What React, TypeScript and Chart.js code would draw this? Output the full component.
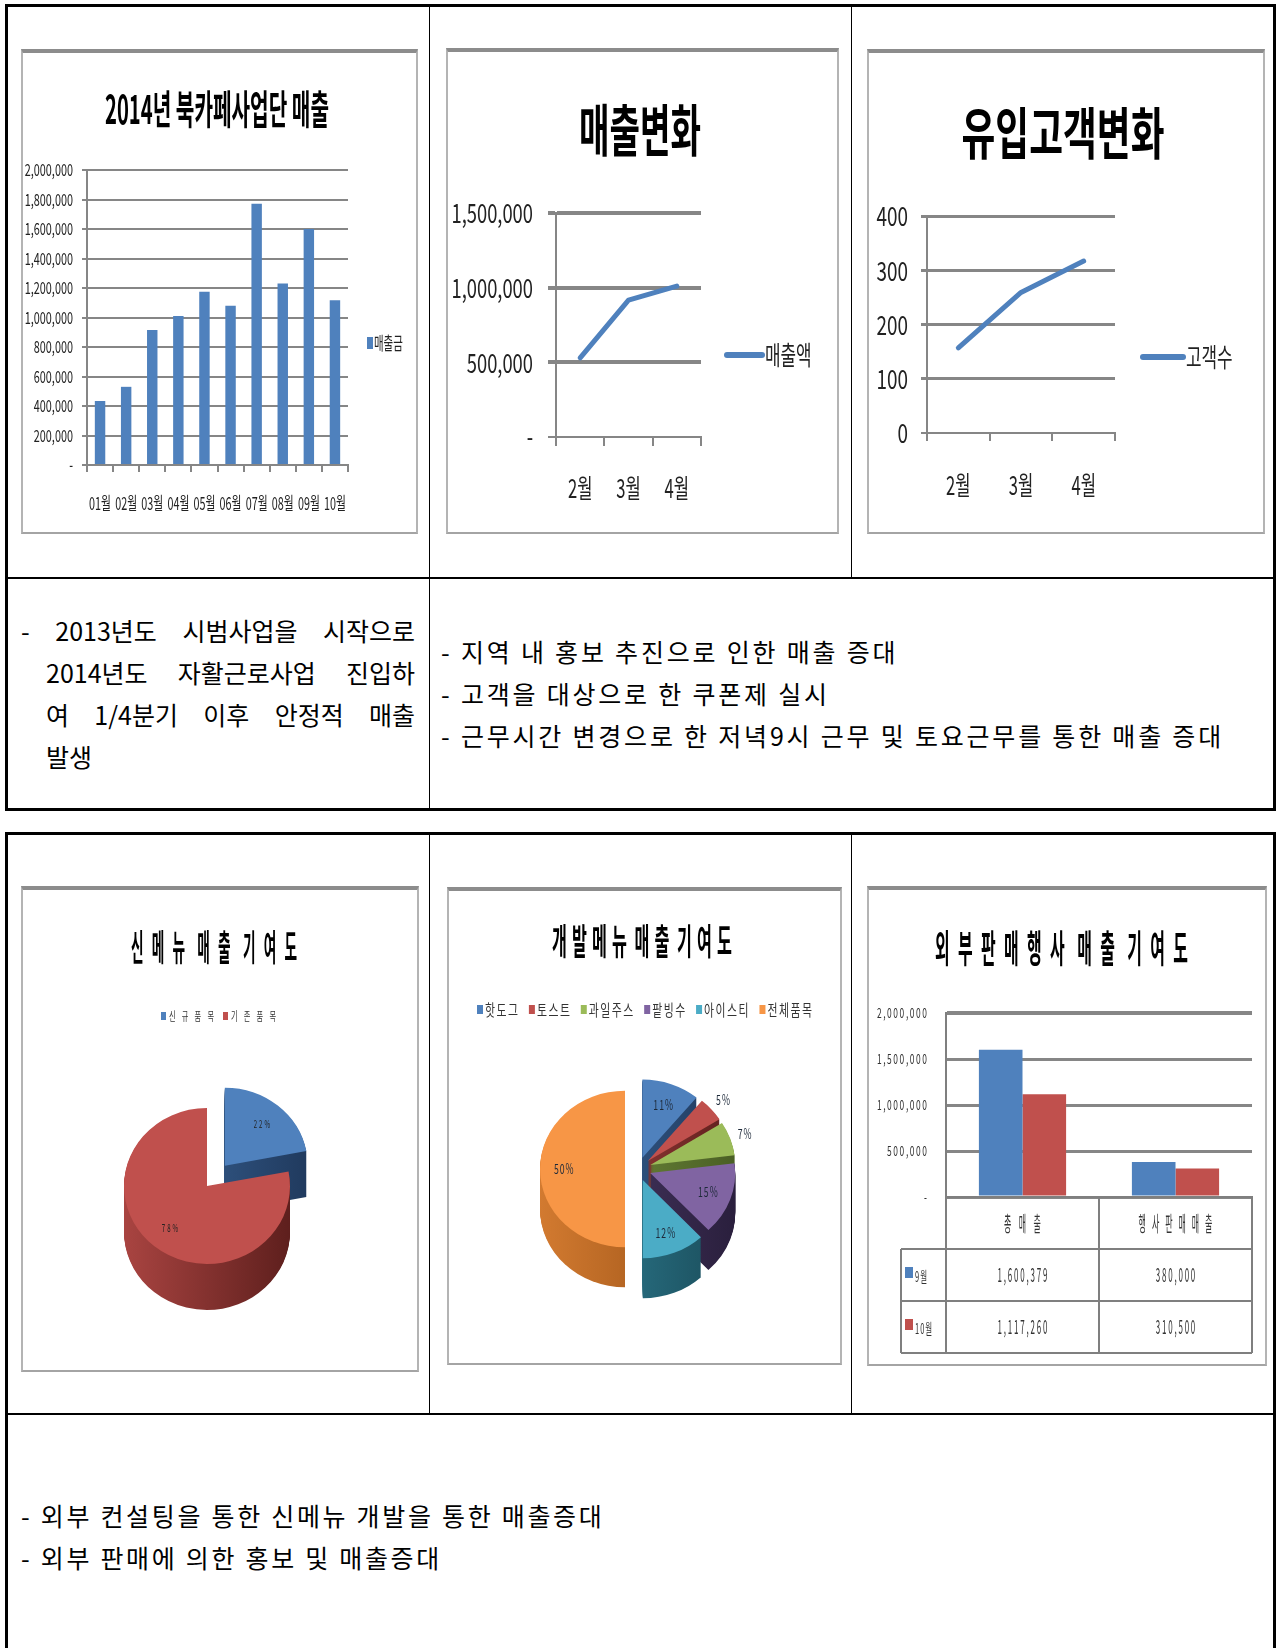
import React, { useEffect, useRef } from 'react';
import { Chart, registerables } from 'chart.js';

Chart.register(...registerables);

const FONT = "'Noto Sans CJK KR', 'Noto Sans', sans-serif";

// ================= data =================
const salesTitle = '2014년 북카페사업단 매출';
const salesMonths = ['01월', '02월', '03월', '04월', '05월', '06월', '07월', '08월', '09월', '10월'];
const salesValues = [434000, 530000, 916000, 1010000, 1175000, 1080000, 1772000, 1230000, 1600379, 1117260];
const salesTicks = ['-', '200,000', '400,000', '600,000', '800,000', '1,000,000', '1,200,000', '1,400,000', '1,600,000', '1,800,000', '2,000,000'];
const salesSeries = '매출금';

const trendTitle = '매출변화';
const trendMonths = ['2월', '3월', '4월'];
const trendValues = [530000, 916000, 1010000];
const trendTicks = ['-', '500,000', '1,000,000', '1,500,000'];
const trendSeries = '매출액';

const visitTitle = '유입고객변화';
const visitMonths = ['2월', '3월', '4월'];
const visitValues = [157, 259, 317];
const visitTicks = ['0', '100', '200', '300', '400'];
const visitSeries = '고객수';

const newMenuTitle = '신메뉴 매출 기여도';
const newMenuLabels = ['신규품목', '기존품목'];
const newMenuValues = [22, 78];

const devMenuTitle = '개발메뉴 매출 기여도';
const devMenuLabels = ['핫도그', '토스트', '과일주스', '팥빙수', '아이스티', '전체품목'];
const devMenuValues = [11, 5, 7, 15, 12, 50];

const eventTitle = '외부판매행사 매출 기여도';
const eventCategories = ['총매출', '행사판매매출'];
const eventSeriesNames = ['9월', '10월'];
const eventSep = [1600379, 380000];
const eventOct = [1117260, 310500];
const eventTicks = ['-', '500,000', '1,000,000', '1,500,000', '2,000,000'];

const noteLeft = ['- 2013년도 시범사업을 시작으로', '2014년도 자활근로사업 진입하', '여 1/4분기 이후 안정적 매출', '발생'];
const noteRight = ['- 지역 내 홍보 추진으로 인한 매출 증대', '- 고객을 대상으로 한 쿠폰제 실시', '- 근무시간 변경으로 한 저녁9시 근무 및 토요근무를 통한 매출 증대'];
const noteBottom = ['- 외부 컨설팅을 통한 신메뉴 개발을 통한 매출증대', '- 외부 판매에 의한 홍보 및 매출증대'];

// ================= styles =================
const BLUE = '#4f81bd';
const RED = '#c0504d';
const GREEN = '#9bbb59';
const PURPLE = '#8064a2';
const CYAN = '#4bacc6';
const ORANGE = '#f79646';
const GRID = '#868686';
const PIE_COLORS = [BLUE, RED, GREEN, PURPLE, CYAN, ORANGE];
const PIE_SIDES: [string, string][] = [
  ['#3a6496', '#203a5e'],
  ['#a94441', '#5e1f1d'],
  ['#748f3e', '#4a5f25'],
  ['#4a3a66', '#2a1f3d'],
  ['#2f8095', '#1b4e5c'],
  ['#d27a30', '#9a5216'],
];

type TOpt = {
  size: number;
  weight?: number;
  sx?: number;
  fitW?: number;
  spacing?: number;
  spread?: number;
  align?: 'left' | 'center' | 'right';
  color?: string;
  dry?: boolean;
};

function drawStr(ctx: any, str: string, x: number, y: number, o: TOpt): number {
  ctx.save();
  ctx.font = `${o.weight ?? 400} ${o.size}px ${FONT}`;
  ctx.fillStyle = o.color ?? '#000';
  ctx.textBaseline = 'middle';
  ctx.textAlign = 'left';
  const chars = Array.from(str);
  const nat = chars.map((c) => ctx.measureText(c).width);
  let sx = o.sx ?? 1;
  if (o.fitW) sx = o.fitW / nat.reduce((a, b) => a + b, 0);
  const items: { c: string; w: number; gap: number }[] = [];
  if (o.spread != null) {
    let pending = 1;
    chars.forEach((c, i) => {
      if (c === ' ') {
        pending = 1.5;
        return;
      }
      items.push({ c, w: nat[i] * sx, gap: items.length ? pending : 0 });
      pending = 1;
    });
  } else {
    chars.forEach((c, i) => items.push({ c, w: nat[i] * sx, gap: i ? 1 : 0 }));
  }
  const wsum = items.reduce((a, it) => a + it.w, 0);
  const gsum = items.reduce((a, it) => a + it.gap, 0);
  const sp = o.spread != null ? (gsum ? (o.spread - wsum) / gsum : 0) : o.spacing ?? 0;
  const total = wsum + sp * gsum;
  if (!o.dry) {
    let cx = o.align === 'left' ? x : o.align === 'right' ? x - total : x - total / 2;
    items.forEach((it) => {
      cx += it.gap * sp;
      ctx.save();
      ctx.translate(cx, y);
      ctx.scale(sx, 1);
      ctx.fillText(it.c, 0, 0);
      ctx.restore();
      cx += it.w;
    });
  }
  ctx.restore();
  return total;
}

const baseOptions = {
  animation: false,
  responsive: false,
  maintainAspectRatio: false,
};

// ================= chart 1: monthly bars =================
function salesConfig(): any {
  return {
    type: 'bar',
    data: {
      labels: salesMonths,
      datasets: [{ label: salesSeries, data: salesValues, backgroundColor: BLUE, barPercentage: 0.4, categoryPercentage: 1 }],
    },
    options: {
      ...baseOptions,
      layout: { padding: { left: 10, right: 70, top: 121, bottom: 29 } },
      plugins: { legend: { display: false }, tooltip: { enabled: false } },
      scales: {
        x: {
          offset: true,
          grid: { offset: true, drawOnChartArea: false, tickLength: 7, color: GRID, lineWidth: 2 },
          border: { color: GRID, width: 2 },
          ticks: { display: false },
          afterFit: (s: any) => { s.height = 40; },
        },
        y: {
          min: 0,
          max: 2000000,
          ticks: { stepSize: 200000, display: false, callback: (_v: any, i: number) => salesTicks[i] },
          grid: { color: GRID, lineWidth: 2, tickLength: 5 },
          border: { color: GRID, width: 2 },
          afterFit: (s: any) => { s.width = 56; },
        },
      },
    },
    plugins: [
      {
        id: 'salesText',
        afterDraw(chart: any) {
          const ctx = chart.ctx;
          const ys = chart.scales.y;
          const xs = chart.scales.x;
          drawStr(ctx, salesTitle, 196, 60, { size: 40, weight: 700, fitW: 224 });
          ys.ticks.forEach((t: any) =>
            drawStr(ctx, String(t.label), 52, ys.getPixelForValue(t.value), { size: 17, sx: 0.64, align: 'right', color: '#222' })
          );
          salesMonths.forEach((m, i) => drawStr(ctx, m, xs.getPixelForValue(i), 454, { size: 18, sx: 0.6, color: '#222' }));
          ctx.fillStyle = BLUE;
          ctx.fillRect(346, 288, 6, 12);
          drawStr(ctx, salesSeries, 353, 294, { size: 18, sx: 0.58, align: 'left', color: '#222' });
        },
      },
    ],
  };
}

// ================= charts 2/3: line =================
function lineConfig(o: any): any {
  return {
    type: 'line',
    data: {
      labels: o.labels,
      datasets: [
        {
          label: o.series,
          data: o.values,
          borderColor: BLUE,
          borderWidth: 5,
          pointRadius: 0,
          borderCapStyle: 'round',
          borderJoinStyle: 'round',
          tension: 0,
          fill: false,
        },
      ],
    },
    options: {
      ...baseOptions,
      layout: { padding: o.pad },
      plugins: { legend: { display: false }, tooltip: { enabled: false } },
      scales: {
        x: {
          offset: true,
          grid: { offset: true, drawOnChartArea: false, tickLength: o.xTick, color: GRID, lineWidth: 2 },
          border: { color: GRID, width: 2 },
          ticks: { display: false },
          afterFit: (s: any) => { s.height = 40; },
        },
        y: {
          min: 0,
          max: o.max,
          ticks: { stepSize: o.step, display: false, callback: (_v: any, i: number) => o.ticks[i] },
          grid: {
            color: GRID,
            tickLength: o.yTick,
            lineWidth: (c: any) => (c.tick && c.tick.value === 0 ? 2 : o.gridW),
          },
          border: { color: GRID, width: 2 },
          afterFit: (s: any) => { s.width = o.yW; },
        },
      },
    },
    plugins: [
      {
        id: 'lineText',
        afterDraw(chart: any) {
          const ctx = chart.ctx;
          const ys = chart.scales.y;
          const xs = chart.scales.x;
          drawStr(ctx, o.title, o.titleX, o.titleY, { size: 56, weight: 700, fitW: o.titleW });
          ys.ticks.forEach((t: any) =>
            drawStr(ctx, String(t.label), o.yLabelX, ys.getPixelForValue(t.value), { size: 27, sx: o.ySx, align: 'right', color: '#222' })
          );
          o.labels.forEach((m: string, i: number) =>
            drawStr(ctx, m, xs.getPixelForValue(i), o.xLabelY, { size: 26, sx: 0.64, color: '#222' })
          );
          ctx.save();
          ctx.strokeStyle = BLUE;
          ctx.lineWidth = 6;
          ctx.lineCap = 'round';
          ctx.beginPath();
          ctx.moveTo(o.legX1, o.legY);
          ctx.lineTo(o.legX2, o.legY);
          ctx.stroke();
          ctx.restore();
          drawStr(ctx, o.series, o.legX2 + 3, o.legY, { size: 26, sx: 0.65, align: 'left', color: '#222' });
        },
      },
    ],
  };
}

// ================= charts 4/5: 3D-looking pies =================
function pie3dPlugin(k: number, depth: number, explode: (i: number) => number, sides: [string, string][]) {
  return {
    id: 'pie3d',
    beforeDatasetsDraw(chart: any) {
      const ctx = chart.ctx;
      const arcs: any[] = chart.getDatasetMeta(0).data;
      if (!arcs.length) return;
      const cx = arcs[0].x;
      const cy = arcs[0].y;
      const r = arcs[0].outerRadius;
      ctx.save();
      ctx.translate(cx, cy);
      ctx.scale(1, k);
      ctx.translate(-cx, -cy);
      const sideOpts = arcs.map((a, i) => {
        const g = ctx.createLinearGradient(cx - r, 0, cx + r, 0);
        g.addColorStop(0, sides[i][0]);
        g.addColorStop(1, sides[i][1]);
        return { ...a.options, backgroundColor: g, borderWidth: 0 };
      });
      const shift = (a: any, i: number) => {
        const m = (a.startAngle + a.endAngle) / 2;
        const e = explode(i);
        return [Math.cos(m) * e, Math.sin(m) * e];
      };
      for (let d = depth; d >= 1; d--) {
        arcs.forEach((a, i) => {
          const [dx, dy] = shift(a, i);
          const saved = a.options;
          ctx.save();
          ctx.translate(dx, dy + d / k);
          a.options = sideOpts[i];
          a.draw(ctx);
          a.options = saved;
          ctx.restore();
        });
      }
      arcs.forEach((a, i) => {
        const [dx, dy] = shift(a, i);
        ctx.save();
        ctx.translate(dx, dy);
        a.draw(ctx);
        ctx.restore();
      });
      ctx.restore();
      return false;
    },
  };
}

function pieLabels(chart: any, values: number[], k: number, explode: (i: number) => number, o: TOpt, inner: number) {
  const ctx = chart.ctx;
  const arcs: any[] = chart.getDatasetMeta(0).data;
  arcs.forEach((a, i) => {
    const m = (a.startAngle + a.endAngle) / 2;
    const v = values[i];
    const dist = (v < 10 ? 1.18 : inner) * a.outerRadius + explode(i);
    const px = a.x + Math.cos(m) * dist;
    const py = a.y + Math.sin(m) * dist * k;
    drawStr(ctx, `${v}%`, px, py, o);
  });
}

function newMenuConfig(): any {
  const k = 0.94;
  const explode = (i: number) => (i === 0 ? 28 : 0);
  return {
    type: 'pie',
    data: {
      labels: newMenuLabels,
      datasets: [{ data: newMenuValues, backgroundColor: [BLUE, RED], borderWidth: 0 }],
    },
    options: {
      ...baseOptions,
      radius: 83,
      layout: { padding: { left: 86, right: 112, top: 200, bottom: 86 } },
      plugins: { legend: { display: false }, tooltip: { enabled: false } },
    },
    plugins: [
      pie3dPlugin(k, 46, explode, [PIE_SIDES[0], PIE_SIDES[1]]),
      {
        id: 'newMenuText',
        afterDraw(chart: any) {
          const ctx = chart.ctx;
          drawStr(ctx, newMenuTitle, 193, 61, { size: 36, weight: 700, sx: 0.38, spread: 166 });
          const starts = [140, 202];
          newMenuLabels.forEach((l, i) => {
            ctx.fillStyle = [BLUE, RED][i];
            ctx.fillRect(starts[i], 126, 5, 8);
            drawStr(ctx, l, starts[i] + 8, 130, { size: 12, sx: 0.6, spread: 45, align: 'left', color: '#333' });
          });
          pieLabels(chart, newMenuValues, k, explode, { size: 11, sx: 0.55, spacing: 2, color: '#222' }, 0.7);
        },
      },
    ],
  };
}

function devMenuConfig(): any {
  const k = 0.92;
  const explode = () => 13;
  return {
    type: 'pie',
    data: {
      labels: devMenuLabels,
      datasets: [{ data: devMenuValues, backgroundColor: PIE_COLORS, borderWidth: 0 }],
    },
    options: {
      ...baseOptions,
      radius: 85,
      layout: { padding: { left: 91, right: 104, top: 182, bottom: 96 } },
      plugins: { legend: { display: false }, tooltip: { enabled: false } },
    },
    plugins: [
      pie3dPlugin(k, 40, explode, PIE_SIDES),
      {
        id: 'devMenuText',
        afterDraw(chart: any) {
          const ctx = chart.ctx;
          drawStr(ctx, devMenuTitle, 195, 54, { size: 36, weight: 700, sx: 0.45, spread: 180 });
          const lo: TOpt = { size: 16, sx: 0.68, spacing: 1.5, align: 'left', color: '#333' };
          const widths = devMenuLabels.map((l) => 8 + drawStr(ctx, l, 0, 0, { ...lo, dry: true }));
          const gap = (335 - widths.reduce((a, b) => a + b, 0)) / (devMenuLabels.length - 1);
          let x = 30;
          devMenuLabels.forEach((l, i) => {
            ctx.fillStyle = PIE_COLORS[i];
            ctx.fillRect(x, 118, 6, 9);
            drawStr(ctx, l, x + 8, 123, lo);
            x += widths[i] + gap;
          });
          pieLabels(chart, devMenuValues, k, explode, { size: 14, sx: 0.62, spacing: 1, color: '#1e2a3a' }, 0.72);
        },
      },
    ],
  };
}

// ================= chart 6: grouped bars with data table =================
function eventConfig(): any {
  return {
    type: 'bar',
    data: {
      labels: eventCategories,
      datasets: [
        { label: eventSeriesNames[0], data: eventSep, backgroundColor: BLUE, barPercentage: 1, categoryPercentage: 0.57 },
        { label: eventSeriesNames[1], data: eventOct, backgroundColor: RED, barPercentage: 1, categoryPercentage: 0.57 },
      ],
    },
    options: {
      ...baseOptions,
      layout: { padding: { left: 10, right: 15, top: 127, bottom: 9 } },
      plugins: { legend: { display: false }, tooltip: { enabled: false } },
      scales: {
        x: {
          offset: true,
          grid: { display: false },
          border: { color: '#7f7f7f', width: 2 },
          ticks: { display: false },
          afterFit: (s: any) => { s.height = 160; },
        },
        y: {
          min: 0,
          max: 2000000,
          ticks: { stepSize: 500000, display: false, callback: (_v: any, i: number) => eventTicks[i] },
          grid: { color: GRID, drawTicks: false, lineWidth: (c: any) => (c.tick && c.tick.value === 2000000 ? 4 : 3) },
          border: { color: '#7f7f7f', width: 2 },
          afterFit: (s: any) => { s.width = 69; },
        },
      },
    },
    plugins: [
      {
        id: 'eventText',
        afterDraw(chart: any) {
          const ctx = chart.ctx;
          const ys = chart.scales.y;
          const xs = chart.scales.x;
          const ca = chart.chartArea;
          drawStr(ctx, eventTitle, 194.5, 62, { size: 38, weight: 700, sx: 0.42, spread: 253 });
          ys.ticks.forEach((t: any) =>
            drawStr(ctx, String(t.label), 60, ys.getPixelForValue(t.value), { size: 14, sx: 0.6, spacing: 1.6, align: 'right', color: '#333' })
          );
          // data table
          const edges = [ca.left, (xs.getPixelForValue(0) + xs.getPixelForValue(1)) / 2, ca.right];
          const rowH = 52;
          const t0 = ca.bottom;
          const legL = 34;
          ctx.save();
          ctx.strokeStyle = '#7f7f7f';
          ctx.lineWidth = 2;
          ctx.beginPath();
          [1, 2, 3].forEach((r) => {
            ctx.moveTo(legL, t0 + r * rowH);
            ctx.lineTo(ca.right, t0 + r * rowH);
          });
          edges.forEach((ex) => {
            ctx.moveTo(ex, t0);
            ctx.lineTo(ex, t0 + 3 * rowH);
          });
          ctx.moveTo(legL, t0 + rowH);
          ctx.lineTo(legL, t0 + 3 * rowH);
          ctx.stroke();
          ctx.restore();
          const rows = [eventSep, eventOct];
          eventCategories.forEach((c, ci) => {
            const cx = (edges[ci] + edges[ci + 1]) / 2;
            drawStr(ctx, c, cx, t0 + rowH / 2, { size: 21, sx: 0.38, spread: c.length * 12.3, color: '#333' });
            rows.forEach((vals, ri) => {
              drawStr(ctx, vals[ci].toLocaleString('en-US'), cx, t0 + rowH * (ri + 1.5), { size: 19, sx: 0.42, spacing: 1.8, color: '#333' });
            });
          });
          eventSeriesNames.forEach((n, ri) => {
            const cy = t0 + rowH * (ri + 1.5);
            ctx.fillStyle = [BLUE, RED][ri];
            ctx.fillRect(38, cy - 8, 8, 11);
            drawStr(ctx, n, 48, cy + 1, { size: 15, sx: 0.5, spacing: 1, align: 'left', color: '#333' });
          });
        },
      },
    ],
  };
}

// ================= components =================
function ChartPanel({ x, y, w, h, make }: any) {
  const ref = useRef<HTMLCanvasElement | null>(null);
  useEffect(() => {
    const c = new Chart(ref.current as HTMLCanvasElement, make());
    return () => c.destroy();
  }, []);
  return (
    <>
      <canvas ref={ref} width={w} height={h} style={{ position: 'absolute', left: x, top: y, width: w, height: h }} />
      <div
        style={{
          position: 'absolute',
          left: x,
          top: y,
          width: w,
          height: h,
          boxSizing: 'border-box',
          borderTop: '4px solid #8c8c8c',
          borderLeft: '2px solid #b4b4b4',
          borderRight: '2px solid #b4b4b4',
          borderBottom: '2px solid #a4a4a4',
          pointerEvents: 'none',
        }}
      />
    </>
  );
}

const abs = (left: number, top: number, width: number, height: number, extra: any = {}) => ({
  position: 'absolute' as const,
  left,
  top,
  width,
  height,
  ...extra,
});

const bodyFont = { fontFamily: FONT, fontSize: 25, lineHeight: '42px', color: '#000', whiteSpace: 'nowrap' as const };

export default function App() {
  return (
    <div style={{ position: 'absolute', left: 0, top: 0, width: 1276, height: 1648, overflow: 'hidden', background: '#fff' }}>
      {/* table 1 */}
      <div style={abs(5, 4, 1271, 807, { border: '3px solid #000', boxSizing: 'border-box' })} />
      <div style={abs(429, 7, 1, 801, { background: '#000' })} />
      <div style={abs(851, 7, 1, 571, { background: '#000' })} />
      <div style={abs(8, 577, 1265, 2, { background: '#000' })} />
      {/* table 2 */}
      <div style={abs(5, 832, 1271, 900, { border: '3px solid #000', boxSizing: 'border-box' })} />
      <div style={abs(429, 835, 1, 579, { background: '#000' })} />
      <div style={abs(851, 835, 1, 579, { background: '#000' })} />
      <div style={abs(8, 1413, 1265, 2, { background: '#000' })} />

      <ChartPanel x={21} y={49} w={397} h={485} make={salesConfig} />
      <ChartPanel
        x={446}
        y={48}
        w={393}
        h={486}
        make={() =>
          lineConfig({
            labels: trendMonths, values: trendValues, series: trendSeries, title: trendTitle, ticks: trendTicks,
            max: 1500000, step: 500000, pad: { left: 10, right: 138, top: 165, bottom: 57 }, yW: 100,
            xTick: 9, yTick: 8, gridW: 4, titleX: 194, titleY: 82, titleW: 122, yLabelX: 87, ySx: 0.68,
            xLabelY: 440, legX1: 281, legX2: 316, legY: 307,
          })
        }
      />
      <ChartPanel
        x={867}
        y={49}
        w={398}
        h={485}
        make={() =>
          lineConfig({
            labels: visitMonths, values: visitValues, series: visitSeries, title: visitTitle, ticks: visitTicks,
            max: 400, step: 100, pad: { left: 10, right: 150, top: 167, bottom: 61 }, yW: 50,
            xTick: 8, yTick: 6, gridW: 3, titleX: 196, titleY: 84, titleW: 203, yLabelX: 41, ySx: 0.7,
            xLabelY: 436, legX1: 276, legX2: 316, legY: 308,
          })
        }
      />

      <div style={abs(21, 609, 394, 170, bodyFont)}>
        {noteLeft.map((t, i) => (
          <div
            key={i}
            style={{
              paddingLeft: i === 0 ? 0 : 25,
              textAlign: i < noteLeft.length - 1 ? 'justify' : 'left',
              textAlignLast: i < noteLeft.length - 1 ? 'justify' : 'left',
            }}
          >
            {t}
          </div>
        ))}
      </div>
      <div style={abs(441, 630, 830, 130, { ...bodyFont, letterSpacing: '2.8px' })}>
        {noteRight.map((t, i) => (
          <div key={i}>{t}</div>
        ))}
      </div>

      <ChartPanel x={21} y={886} w={398} h={486} make={newMenuConfig} />
      <ChartPanel x={447} y={887} w={395} h={478} make={devMenuConfig} />
      <ChartPanel x={867} y={886} w={400} h={480} make={eventConfig} />

      <div style={abs(21, 1494, 1200, 90, { ...bodyFont, letterSpacing: '2.7px' })}>
        {noteBottom.map((t, i) => (
          <div key={i}>{t}</div>
        ))}
      </div>
    </div>
  );
}
